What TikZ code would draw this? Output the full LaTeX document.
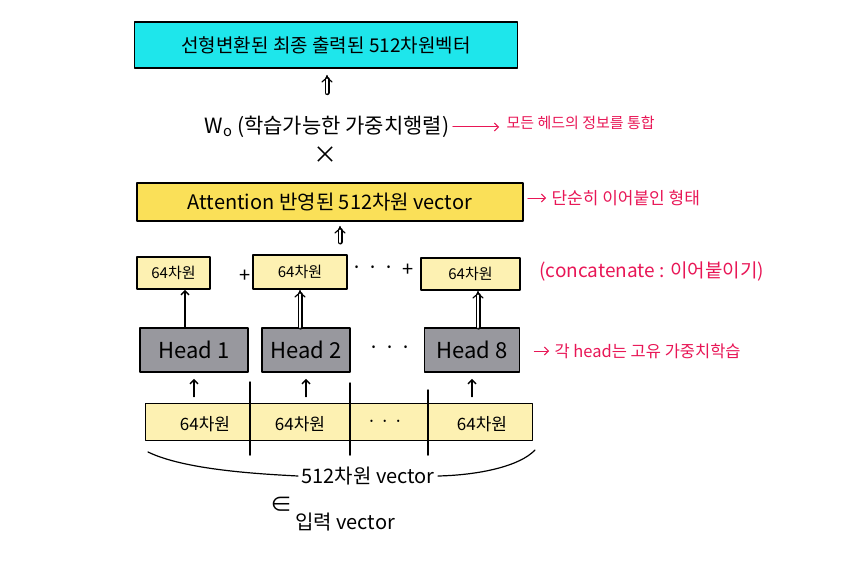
\documentclass[tikz,border=0pt]{standalone}
\usepackage{fontspec}
\setmainfont{Noto Sans CJK KR}
\usetikzlibrary{arrows.meta}
\definecolor{outcyan}{RGB}{30,230,235}
\definecolor{attyellow}{RGB}{250,224,88}
\definecolor{dimyellow}{RGB}{253,241,178}
\definecolor{headgray}{RGB}{152,152,158}
\definecolor{notered}{RGB}{232,22,86}
\newcommand{\fs}[1]{\fontsize{#1}{#1}\selectfont}
\begin{document}
\begin{tikzpicture}[x=1pt, y=-1pt, line join=round, line cap=round, >=Stealth,
		font=\fs{20},
		box/.style={draw, line width=1.8pt, inner sep=0pt},
		dbl/.style={double, double distance=2.6pt, line width=1.2pt, -{Implies}},
		sgl/.style={line width=1.4pt, -{Straight Barb[length=4pt]}},
		note/.style={text=notered, anchor=west},
		notearrow/.style={draw=notered, line width=1pt, -{Straight Barb[length=4pt]}}]
	\useasboundingbox (0,0) rectangle (850,564);
	% output, weight matrix, concatenated vector
	\node[box, fill=outcyan, minimum width=383pt, minimum height=46pt, font=\fs{19}] (out) at (326,45) {선형변환된 최종 출력된 512차원벡터};
	\node[font=\fs{21}] (wo) at (327,127) {W\textsubscript{o} (학습가능한 가중치행렬)};
	\node[font=\fs{24}] (times) at (325,155) {×};
	\node[box, fill=attyellow, minimum width=386pt, minimum height=38pt] (att) at (330,202) {Attention 반영된 512차원 vector};
	\draw[dbl, shorten <=20pt, shorten >=6pt] (wo.north) -- (wo.north |- out.south);
	\coordinate (catup) at (340,242);
	\draw[dbl, shorten >=4pt] (catup) -- (catup |- att.south);
	% 64-dim outputs of the heads
	\foreach \n/\c/\y/\w/\h in {c1/173.5/273/73/32, c2/300/272/94/34, c3/470.5/274/99/32}{
		\node[box, fill=dimyellow, minimum width=\w pt, minimum height=\h pt, font=\fs{15}] (\n) at (\c,\y) {64차원};
	}
	\node (plus1) at (245,276) {+};
	\node (dots1) at (373,270) {· · ·};
	\node (plus2) at (408,270) {+};
	% heads
	\foreach \n/\t/\c/\w in {h1/Head 1/194/108, h2/Head 2/306/88, h8/Head 8/472/95}{
		\node[box, fill=headgray, minimum width=\w pt, minimum height=44pt, font=\fs{22}] (\n) at (\c,350) {\t};
	}
	\node (dots2) at (390,350) {· · ·};
	\draw[sgl] ([xshift=-9pt]h1.north) -- ([xshift=-9pt]h1.north |- c1.south);
	\draw[dbl] ([xshift=-6pt]h2.north) -- ([xshift=-6pt]h2.north |- c2.south);
	\draw[dbl] ([xshift=6pt]h8.north) -- ([xshift=6pt]h8.north |- c3.south);
	% input vector split in 64-dim parts
	\node[draw, line width=0.8pt, fill=dimyellow, minimum width=387pt, minimum height=37pt] (bar) at (338.5,421.5) {};
	\foreach \x/\a/\b in {250/382/455, 350/383/455, 428/390/455}{
		\draw[line width=1.5pt] (\x,\a) -- (\x,\b);
	}
	\foreach \n/\c/\t in {s1/205/64차원, s2/300/64차원, s3/385/· · ·, s4/482/64차원}{
		\node[font=\fs{17}] (\n) at (\c,424) {\t};
	}
	\foreach \h in {h1,h2,h8}{
		\draw[sgl, shorten <=6pt, shorten >=6pt] (bar.north -| \h) -- (\h.south);
	}
	% brace under the input
	\coordinate (bl) at (148,452);
	\coordinate (br) at (535,450);
	\node (dimlbl) at (368,476) {512차원 vector};
	\draw[line width=1.2pt] (bl) .. controls (185,470) and (260,474) .. (dimlbl.west);
	\draw[line width=1.2pt] (dimlbl.east) .. controls (480,475) and (520,466) .. (br);
	\node[font=\fs{22}] (elem) at (281,505) {∈};
	\node (inp) at (345,522) {입력 vector};
	% notes
	\node[note, font=\fs{15}] (n1) at (503,123) {모든 헤드의 정보를 통합};
	\node[note, font=\fs{17}] (n2) at (548,198) {단순히 이어붙인 형태};
	\node[note, font=\fs{19}] (n3) at (536,272) {(concatenate : 이어붙이기)};
	\node[note, font=\fs{16.5}] (n4) at (551,351) {각 head는 고유 가중치학습};
	\draw[notearrow, shorten >=4pt] (wo.east) -- (wo.east -| n1.west);
	\draw[notearrow, shorten <=4pt, shorten >=2pt] (att.east |- n2.west) -- (n2.west);
	\draw[notearrow, shorten <=14pt, shorten >=2pt] (h8.east |- n4.west) -- (n4.west);
\end{tikzpicture}
\end{document}
